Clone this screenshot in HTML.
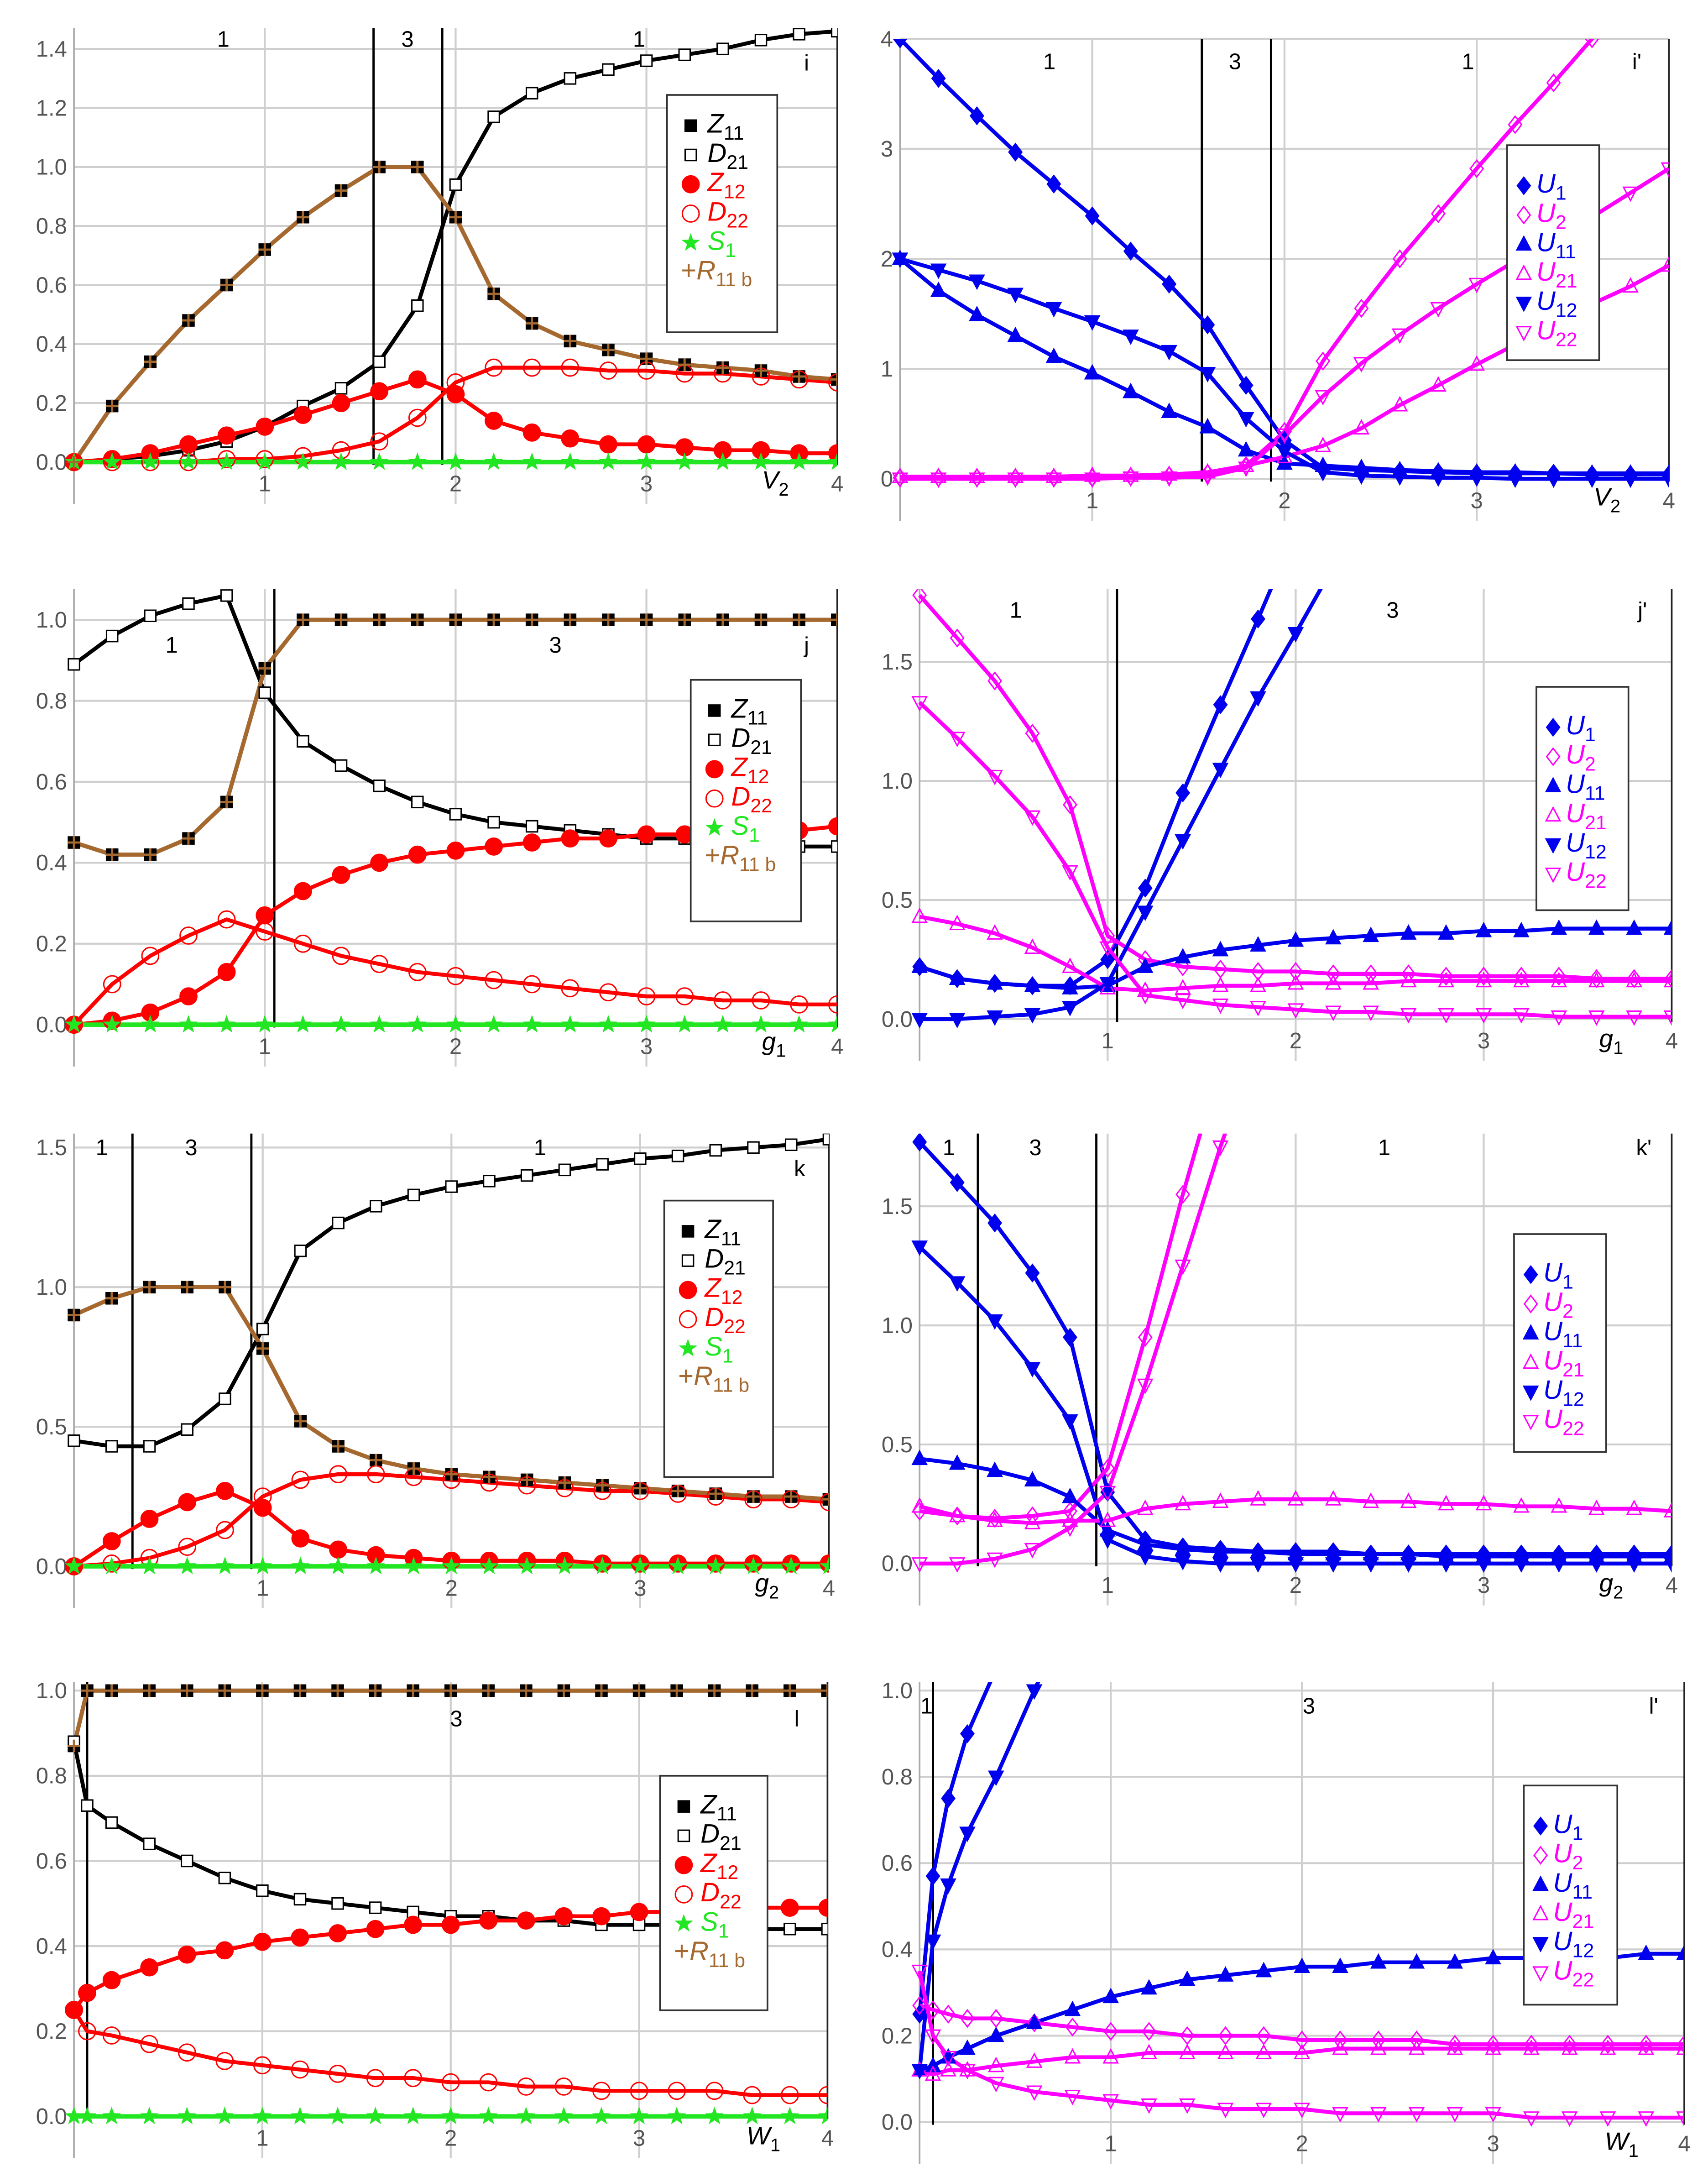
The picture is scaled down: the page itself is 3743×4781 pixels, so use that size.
<!DOCTYPE html>
<html><head><meta charset="utf-8"><title>Panels i–l'</title>
<style>
html,body{margin:0;padding:0;background:#fff;}
svg{display:block;}
text{font-family:"Liberation Sans",sans-serif;}
</style></head>
<body>
<svg id="fig" xmlns="http://www.w3.org/2000/svg" width="3743" height="4781" viewBox="0 0 1224 1563" preserveAspectRatio="none"></svg>
<script>
// ---------- data ----------
const XS = [0,0.2,0.4,0.6,0.8,1.0,1.2,1.4,1.6,1.8,2.0,2.2,2.4,2.6,2.8,3.0,3.2,3.4,3.6,3.8,4.0];
const XS_L = [0,0.07,0.2,0.4,0.6,0.8,1.0,1.2,1.4,1.6,1.8,2.0,2.2,2.4,2.6,2.8,3.0,3.2,3.4,3.6,3.8,4.0];
const XS_LP = [0,0.07,0.15,0.25,0.4,0.6,0.8,1.0,1.2,1.4,1.6,1.8,2.0,2.2,2.4,2.6,2.8,3.0,3.2,3.4,3.6,3.8,4.0];

// panel i
const i_Z11 = [0,0.19,0.34,0.48,0.6,0.72,0.83,0.92,1.0,1.0,0.83,0.57,0.47,0.41,0.38,0.35,0.33,0.32,0.31,0.29,0.28];
const i_D21 = [0,0.01,0.02,0.04,0.07,0.12,0.19,0.25,0.34,0.53,0.94,1.17,1.25,1.3,1.33,1.36,1.38,1.4,1.43,1.45,1.46];
const i_Z12 = [0,0.01,0.03,0.06,0.09,0.12,0.16,0.2,0.24,0.28,0.23,0.14,0.1,0.08,0.06,0.06,0.05,0.04,0.04,0.03,0.03];
const i_D22 = [0,0,0,0,0.01,0.01,0.02,0.04,0.07,0.15,0.27,0.32,0.32,0.32,0.31,0.31,0.3,0.3,0.29,0.28,0.27];
const i_S1  = [0,0,0,0,0,0,0,0,0,0,0,0,0,0,0,0,0,0,0,0,0];
const i_R11b= [0,0.19,0.34,0.48,0.6,0.72,0.83,0.92,1.0,1.0,0.83,0.57,0.47,0.41,0.38,0.35,0.33,0.32,0.31,0.29,0.28];
// panel i'
const ip_U1  = [4,3.64,3.3,2.97,2.68,2.39,2.07,1.77,1.4,0.85,0.35,0.1,0.08,0.07,0.06,0.05,0.05,0.05,0.04,0.04,0.04];
const ip_U2  = [0.01,0.01,0.01,0.01,0.01,0.01,0.02,0.03,0.05,0.12,0.43,1.07,1.55,2.0,2.41,2.82,3.22,3.6,4.0,4.4,4.8];
const ip_U11 = [2,1.71,1.49,1.3,1.11,0.96,0.79,0.61,0.47,0.26,0.14,0.12,0.1,0.08,0.07,0.06,0.06,0.05,0.05,0.05,0.05];
const ip_U21 = [0.02,0.02,0.02,0.02,0.02,0.03,0.03,0.04,0.06,0.12,0.2,0.3,0.46,0.67,0.85,1.04,1.22,1.4,1.59,1.75,1.94];
const ip_U12 = [2,1.9,1.8,1.68,1.55,1.43,1.3,1.16,0.96,0.55,0.25,0.06,0.03,0.02,0.01,0.01,0,0,0,0,0];
const ip_U22 = [0,0,0,0,0,0,0.01,0.01,0.02,0.1,0.4,0.75,1.05,1.31,1.55,1.77,1.98,2.18,2.38,2.6,2.82];
// panel j
const j_Z11 = [0.45,0.42,0.42,0.46,0.55,0.88,1,1,1,1,1,1,1,1,1,1,1,1,1,1,1];
const j_D21 = [0.89,0.96,1.01,1.04,1.06,0.82,0.7,0.64,0.59,0.55,0.52,0.5,0.49,0.48,0.47,0.46,0.46,0.45,0.45,0.44,0.44];
const j_Z12 = [0,0.01,0.03,0.07,0.13,0.27,0.33,0.37,0.4,0.42,0.43,0.44,0.45,0.46,0.46,0.47,0.47,0.48,0.48,0.48,0.49];
const j_D22 = [0,0.1,0.17,0.22,0.26,0.23,0.2,0.17,0.15,0.13,0.12,0.11,0.1,0.09,0.08,0.07,0.07,0.06,0.06,0.05,0.05];
const j_S1  = [0,0,0,0,0,0,0,0,0,0,0,0,0,0,0,0,0,0,0,0,0];
const j_R11b= [0.45,0.42,0.42,0.46,0.55,0.88,1,1,1,1,1,1,1,1,1,1,1,1,1,1,1];
// panel j'
const jp_U1  = [0.22,0.17,0.15,0.14,0.14,0.25,0.55,0.95,1.32,1.68,2.05,2.4,2.8,3.2,3.6,4,4.4,4.8,5.2,5.6,6];
const jp_U2  = [1.78,1.6,1.42,1.2,0.9,0.35,0.25,0.22,0.21,0.2,0.2,0.19,0.19,0.19,0.18,0.18,0.18,0.18,0.17,0.17,0.17];
const jp_U11 = [0.22,0.17,0.15,0.14,0.13,0.14,0.22,0.26,0.29,0.31,0.33,0.34,0.35,0.36,0.36,0.37,0.37,0.38,0.38,0.38,0.38];
const jp_U21 = [0.43,0.4,0.36,0.3,0.22,0.13,0.12,0.13,0.14,0.14,0.15,0.15,0.15,0.16,0.16,0.16,0.16,0.16,0.16,0.16,0.16];
const jp_U12 = [0,0,0.01,0.02,0.05,0.15,0.45,0.75,1.05,1.35,1.62,1.9,2.2,2.5,2.8,3.1,3.4,3.7,4,4.3,4.6];
const jp_U22 = [1.33,1.18,1.02,0.85,0.62,0.3,0.1,0.08,0.06,0.05,0.04,0.03,0.03,0.02,0.02,0.02,0.02,0.01,0.01,0.01,0.01];
// panel k
const k_Z11 = [0.9,0.96,1,1,1,0.78,0.52,0.43,0.38,0.35,0.33,0.32,0.31,0.3,0.29,0.28,0.27,0.26,0.25,0.25,0.24];
const k_D21 = [0.45,0.43,0.43,0.49,0.6,0.85,1.13,1.23,1.29,1.33,1.36,1.38,1.4,1.42,1.44,1.46,1.47,1.49,1.5,1.51,1.53];
const k_Z12 = [0,0.09,0.17,0.23,0.27,0.21,0.1,0.06,0.04,0.03,0.02,0.02,0.02,0.02,0.01,0.01,0.01,0.01,0.01,0.01,0.01];
const k_D22 = [0,0.01,0.03,0.07,0.13,0.25,0.31,0.33,0.33,0.32,0.31,0.3,0.29,0.28,0.27,0.27,0.26,0.25,0.24,0.24,0.23];
const k_S1  = [0,0,0,0,0,0,0,0,0,0,0,0,0,0,0,0,0,0,0,0,0];
const k_R11b= [0.9,0.96,1,1,1,0.78,0.52,0.43,0.38,0.35,0.33,0.32,0.31,0.3,0.29,0.28,0.27,0.26,0.25,0.25,0.24];
// panel k'
const kp_U1  = [1.77,1.6,1.43,1.22,0.95,0.3,0.1,0.07,0.06,0.05,0.05,0.05,0.04,0.04,0.04,0.04,0.04,0.04,0.04,0.04,0.04];
const kp_U2  = [0.22,0.2,0.19,0.2,0.22,0.4,0.95,1.55,2.1,2.6,3.0,3.4,3.8,4.2,4.6,5,5.4,5.8,6.2,6.6,7];
const kp_U11 = [0.44,0.42,0.39,0.35,0.28,0.14,0.08,0.06,0.05,0.05,0.04,0.04,0.04,0.04,0.03,0.03,0.03,0.03,0.03,0.03,0.03];
const kp_U21 = [0.24,0.2,0.18,0.17,0.18,0.18,0.23,0.25,0.26,0.27,0.27,0.27,0.26,0.26,0.25,0.25,0.24,0.24,0.23,0.23,0.22];
const kp_U12 = [1.33,1.18,1.02,0.82,0.6,0.1,0.03,0.01,0,0,0,0,0,0,0,0,0,0,0,0,0];
const kp_U22 = [0,0,0.02,0.06,0.15,0.3,0.75,1.25,1.75,2.2,2.6,3,3.4,3.8,4.2,4.6,5,5.4,5.8,6.2,6.6];
// panel l
const l_Z11 = [0.87,1,1,1,1,1,1,1,1,1,1,1,1,1,1,1,1,1,1,1,1,1];
const l_D21 = [0.88,0.73,0.69,0.64,0.6,0.56,0.53,0.51,0.5,0.49,0.48,0.47,0.47,0.46,0.46,0.45,0.45,0.45,0.44,0.44,0.44,0.44];
const l_Z12 = [0.25,0.29,0.32,0.35,0.38,0.39,0.41,0.42,0.43,0.44,0.45,0.45,0.46,0.46,0.47,0.47,0.48,0.48,0.48,0.49,0.49,0.49];
const l_D22 = [0.25,0.2,0.19,0.17,0.15,0.13,0.12,0.11,0.1,0.09,0.09,0.08,0.08,0.07,0.07,0.06,0.06,0.06,0.06,0.05,0.05,0.05];
const l_S1  = [0,0,0,0,0,0,0,0,0,0,0,0,0,0,0,0,0,0,0,0,0,0];
const l_R11b= [0.87,1,1,1,1,1,1,1,1,1,1,1,1,1,1,1,1,1,1,1,1,1];
// panel l'
const lp_U1  = [0.25,0.57,0.75,0.9,1.05,1.3,1.55,1.8,2,2.2,2.4,2.6,2.8,3,3.2,3.4,3.6,3.8,4,4.2,4.4,4.6,4.8];
const lp_U2  = [0.27,0.26,0.25,0.24,0.24,0.23,0.22,0.21,0.21,0.2,0.2,0.2,0.19,0.19,0.19,0.19,0.18,0.18,0.18,0.18,0.18,0.18,0.18];
const lp_U11 = [0.12,0.13,0.15,0.17,0.2,0.23,0.26,0.29,0.31,0.33,0.34,0.35,0.36,0.36,0.37,0.37,0.37,0.38,0.38,0.38,0.38,0.39,0.39];
const lp_U21 = [0.12,0.11,0.12,0.12,0.13,0.14,0.15,0.15,0.16,0.16,0.16,0.16,0.16,0.17,0.17,0.17,0.17,0.17,0.17,0.17,0.17,0.17,0.17];
const lp_U12 = [0.12,0.42,0.55,0.67,0.8,1.0,1.2,1.4,1.6,1.8,2,2.2,2.4,2.6,2.8,3,3.2,3.4,3.6,3.8,4,4.2,4.4];
const lp_U22 = [0.35,0.2,0.15,0.12,0.09,0.07,0.06,0.05,0.04,0.04,0.03,0.03,0.03,0.02,0.02,0.02,0.02,0.02,0.01,0.01,0.01,0.01,0.01];

const TICKS_14 = [0,0.2,0.4,0.6,0.8,1.0,1.2,1.4];
const TICKS_4 = [0,1,2,3,4];
const TICKS_10 = [0,0.2,0.4,0.6,0.8,1.0];
const TICKS_15 = [0,0.5,1.0,1.5];
const XTICKS = [1,2,3,4];

// ---------- styling ----------
const NS = 'http://www.w3.org/2000/svg';
const svg = document.getElementById('fig');
const BROWN = '#a5692f', RED = '#ff0000', GREEN = '#22e622', BLUE = '#0000ee', MAG = '#ff00ff';

function mk(tag, attrs, parent) {
  const e = document.createElementNS(NS, tag);
  for (const k in attrs) e.setAttribute(k, attrs[k]);
  (parent || svg).appendChild(e);
  return e;
}

function marker(g, type, x, y, color) {
  const s = 4;
  let e;
  if (type === 'fsq' || type === 'osq') {
    e = mk('rect', {x: x - s, y: y - s, width: 2 * s, height: 2 * s,
      fill: type === 'fsq' ? '#000' : '#fff', stroke: '#000', 'stroke-width': 1}, g);
  } else if (type === 'fci' || type === 'oci') {
    e = mk('circle', {cx: x, cy: y, r: 6, fill: type === 'fci' ? color : 'none', stroke: color, 'stroke-width': 1}, g);
  } else if (type === 'star') {
    let p = [];
    for (let k = 0; k < 10; k++) {
      const r = k % 2 ? 2.8 : 7, a = -Math.PI / 2 + k * Math.PI / 5;
      p.push((x + r * Math.cos(a)).toFixed(2) + ',' + (y + r * Math.sin(a)).toFixed(2));
    }
    e = mk('polygon', {points: p.join(' '), fill: color}, g);
  } else if (type === 'plus') {
    e = mk('path', {d: `M${x-4.5},${y}H${x+4.5}M${x},${y-4.5}V${y+4.5}`, stroke: color, 'stroke-width': 1.6, fill: 'none'}, g);
  } else if (type === 'fdi' || type === 'odi') {
    e = mk('polygon', {points: `${x},${y-6} ${x+4.6},${y} ${x},${y+6} ${x-4.6},${y}`,
      fill: type === 'fdi' ? color : 'none', stroke: color, 'stroke-width': 1}, g);
  } else if (type === 'fup' || type === 'oup') {
    e = mk('polygon', {points: `${x},${y-5.5} ${x+5},${y+4} ${x-5},${y+4}`,
      fill: type === 'fup' ? color : 'none', stroke: color, 'stroke-width': 1}, g);
  } else {
    e = mk('polygon', {points: `${x},${y+5.5} ${x+5},${y-4} ${x-5},${y-4}`,
      fill: type === 'fdn' ? color : 'none', stroke: color, 'stroke-width': 1}, g);
  }
  
  
  return e;
}

let clipId = 0;
function panel(cfg) {
  const g = mk('g', {});
  
  
  const xs = cfg.xs;
  const sx = v => cfg.left + (cfg.right - cfg.left) * v / 4;
  const sy = v => cfg.y0 - cfg.ppu * v;
  const bottom = cfg.y0 + 30;
  cfg.yticks.forEach(t => {
    const ln = mk('line', {x1: cfg.left, x2: cfg.right, y1: sy(t), y2: sy(t), stroke: '#cfcfcf', 'stroke-width': 1.4}, g);
    
    
    const tl = mk('text', {x: cfg.left - 5, y: sy(t) + 5.5, 'text-anchor': 'end', 'font-size': 16, fill: '#555'}, g);
    tl.textContent = cfg.dec ? t.toFixed(1) : String(t);
    
    
  });
  XTICKS.forEach(t => {
    if (t < 4) {
      const ln = mk('line', {x1: sx(t), x2: sx(t), y1: cfg.top, y2: bottom, stroke: '#cfcfcf', 'stroke-width': 1.4}, g);
      
      
    }
    const tl = mk('text', {x: sx(t), y: cfg.y0 + 21, 'text-anchor': 'middle', 'font-size': 16, fill: '#555'}, g);
    tl.textContent = String(t);
    
    
  });
  const ax = mk('line', {x1: cfg.left, x2: cfg.left, y1: cfg.top, y2: bottom, stroke: '#aaa', 'stroke-width': 1.2}, g);
  
  
  const rf = mk('line', {x1: cfg.right, x2: cfg.right, y1: cfg.top, y2: cfg.y0 + 2, stroke: '#222', 'stroke-width': 1.2}, g);
  
  
  cfg.vlines.forEach(v => {
    const ln = mk('line', {x1: sx(v), x2: sx(v), y1: cfg.top, y2: cfg.y0 + 2, stroke: '#000', 'stroke-width': 1.6}, g);
    
    
  });
  const cid = 'clip' + (clipId++);
  const cp = mk('clipPath', {id: cid}, g);
  mk('rect', {x: cfg.left - 8, y: cfg.top, width: cfg.right - cfg.left + 8, height: cfg.y0 - cfg.top + 12}, cp);
  const sg = mk('g', {'clip-path': `url(#${cid})`}, g);
  
  
  cfg.series.forEach(s => {
    if (s.line) {
      const pts = s.ys.map((v, k) => sx(xs[k]).toFixed(2) + ',' + sy(v).toFixed(2)).join(' ');
      const pl = mk('polyline', {points: pts, fill: 'none', stroke: s.line, 'stroke-width': s.lw || 2.8, 'stroke-linejoin': 'round'}, sg);
      
      
    }
  });
  cfg.series.forEach(s => {
    s.ys.forEach((v, k) => marker(sg, s.m, sx(xs[k]), sy(v), s.color));
  });
  cfg.regions.forEach(r => {
    const t = mk('text', {x: r[0], y: r[1] + 5.5, 'text-anchor': 'middle', 'font-size': 16, fill: '#000'}, g);
    t.textContent = r[2];
    
    
  });
  const tg = mk('text', {x: cfg.tag[1], y: cfg.tag[2] + 5.5, 'text-anchor': 'middle', 'font-size': 16, fill: '#000'}, g);
  tg.textContent = cfg.tag[0];
  
  
  const xl = mk('text', {x: cfg.xlab[1], y: cfg.xlab[2], 'font-size': 18, 'font-style': 'italic', fill: '#000'}, g);
  xl.textContent = cfg.xlab[0];
  const sub = mk('tspan', {dy: 5, 'font-size': 13, 'font-style': 'normal'}, xl);
  sub.textContent = cfg.xlab[3];
  
  
  const L = cfg.legend;
  const lg = mk('g', {}, g);
  
  
  mk('rect', {x: L.x, y: L.y, width: L.w, height: L.h, fill: '#fff', stroke: '#333', 'stroke-width': 1.2}, lg);
  cfg.series.forEach((s, k) => {
    const yy = L.y + L.start + k * 21;
    const eg = mk('g', {}, lg);
    
    
    if (s.m !== 'plus') marker(eg, s.m, L.x + L.mx, yy, s.color);
    const tx = mk('text', {x: L.x + (s.m === 'plus' ? 10 : L.tx), y: yy + 5, 'font-size': 19, 'font-style': 'italic', fill: s.tcolor}, eg);
    if (s.m === 'plus') { const p = mk('tspan', {'font-style': 'normal'}, tx); p.textContent = '+'; }
    const a = mk('tspan', {}, tx); a.textContent = s.base;
    const b = mk('tspan', {dy: 5, 'font-size': 14, 'font-style': 'normal'}, tx); b.textContent = s.sub;
  });
}

function zSeries(Z11, D21, Z12, D22, S1, R11b) {
  return [
    {name: 'Z11', ys: Z11, m: 'fsq', color: '#000', tcolor: '#000', base: 'Z', sub: '11'},
    {name: 'D21', ys: D21, m: 'osq', color: '#000', tcolor: '#000', base: 'D', sub: '21', line: '#000'},
    {name: 'Z12', ys: Z12, m: 'fci', color: RED, tcolor: RED, base: 'Z', sub: '12', line: RED},
    {name: 'D22', ys: D22, m: 'oci', color: RED, tcolor: RED, base: 'D', sub: '22', line: RED},
    {name: 'S1', ys: S1, m: 'star', color: GREEN, tcolor: GREEN, base: 'S', sub: '1', line: GREEN, lw: 3.2},
    {name: 'R11b', ys: R11b, m: 'plus', color: BROWN, tcolor: BROWN, base: 'R', sub: '11 b', line: BROWN, lw: 3}
  ];
}
function uSeries(U1, U2, U11, U21, U12, U22) {
  return [
    {name: 'U1', ys: U1, m: 'fdi', color: BLUE, tcolor: BLUE, base: 'U', sub: '1', line: BLUE},
    {name: 'U2', ys: U2, m: 'odi', color: MAG, tcolor: MAG, base: 'U', sub: '2', line: MAG},
    {name: 'U11', ys: U11, m: 'fup', color: BLUE, tcolor: BLUE, base: 'U', sub: '11', line: BLUE},
    {name: 'U21', ys: U21, m: 'oup', color: MAG, tcolor: MAG, base: 'U', sub: '21', line: MAG},
    {name: 'U12', ys: U12, m: 'fdn', color: BLUE, tcolor: BLUE, base: 'U', sub: '12', line: BLUE},
    {name: 'U22', ys: U22, m: 'odn', color: MAG, tcolor: MAG, base: 'U', sub: '22', line: MAG}
  ];
}
const LZ = {start: 22, mx: 17, tx: 29};
const LU = {start: 29, mx: 12, tx: 21};

panel({id: 'i', xs: XS, left: 53, right: 600, y0: 331, ppu: 211.4, top: 20, yticks: TICKS_14, dec: true,
  vlines: [1.57, 1.93], regions: [[160, 28, '1'], [292, 28, '3'], [458, 28, '1']], tag: ['i', 578, 45],
  xlab: ['V', 546, 350, '2'], legend: Object.assign({x: 478, y: 68, w: 79, h: 170}, LZ),
  series: zSeries(i_Z11, i_D21, i_Z12, i_D22, i_S1, i_R11b)});
panel({id: 'i-prime', xs: XS, left: 645, right: 1196, y0: 343, ppu: 78.8, top: 28, yticks: TICKS_4, dec: false,
  vlines: [1.57, 1.93], regions: [[752, 44, '1'], [885, 44, '3'], [1052, 44, '1']], tag: ["i'", 1173, 44],
  xlab: ['V', 1142, 362, '2'], legend: Object.assign({x: 1080, y: 104, w: 66, h: 154}, LU),
  series: uSeries(ip_U1, ip_U2, ip_U11, ip_U21, ip_U12, ip_U22)});
panel({id: 'j', xs: XS, left: 53, right: 600, y0: 734, ppu: 290, top: 422, yticks: TICKS_10, dec: true,
  vlines: [1.05], regions: [[123, 462, '1'], [398, 462, '3']], tag: ['j', 578, 462],
  xlab: ['g', 546, 752, '1'], legend: Object.assign({x: 495, y: 487, w: 79, h: 173}, LZ),
  series: zSeries(j_Z11, j_D21, j_Z12, j_D22, j_S1, j_R11b)});
panel({id: 'j-prime', xs: XS, left: 659, right: 1198, y0: 730, ppu: 170.6, top: 422, yticks: TICKS_15, dec: true,
  vlines: [1.05], regions: [[728, 437, '1'], [998, 437, '3']], tag: ["j'", 1177, 437],
  xlab: ['g', 1146, 750, '1'], legend: Object.assign({x: 1101, y: 492, w: 66, h: 160}, LU),
  series: uSeries(jp_U1, jp_U2, jp_U11, jp_U21, jp_U12, jp_U22)});
panel({id: 'k', xs: XS, left: 53, right: 594, y0: 1122, ppu: 200, top: 812, yticks: TICKS_15, dec: true,
  vlines: [0.31, 0.94], regions: [[73, 822, '1'], [137, 822, '3'], [387, 822, '1']], tag: ['k', 573, 837],
  xlab: ['g', 541, 1140, '2'], legend: Object.assign({x: 476, y: 860, w: 78, h: 198}, LZ),
  series: zSeries(k_Z11, k_D21, k_Z12, k_D22, k_S1, k_R11b)});
panel({id: 'k-prime', xs: XS, left: 659, right: 1198, y0: 1120, ppu: 170.6, top: 812, yticks: TICKS_15, dec: true,
  vlines: [0.31, 0.94], regions: [[680, 822, '1'], [742, 822, '3'], [992, 822, '1']], tag: ["k'", 1178, 822],
  xlab: ['g', 1146, 1140, '2'], legend: Object.assign({x: 1085, y: 884, w: 66, h: 156}, LU),
  series: uSeries(kp_U1, kp_U2, kp_U11, kp_U21, kp_U12, kp_U22)});
panel({id: 'l', xs: XS_L, left: 53, right: 593, y0: 1516, ppu: 305, top: 1205, yticks: TICKS_10, dec: true,
  vlines: [0.07], regions: [[327, 1231, '3']], tag: ['l', 571, 1231],
  xlab: ['W', 535, 1536, '1'], legend: Object.assign({x: 473, y: 1272, w: 77, h: 168}, LZ),
  series: zSeries(l_Z11, l_D21, l_Z12, l_D22, l_S1, l_R11b)});
panel({id: 'l-prime', xs: XS_LP, left: 659, right: 1207, y0: 1520, ppu: 309, top: 1205, yticks: TICKS_10, dec: true,
  vlines: [0.07], regions: [[664, 1222, '1'], [938, 1222, '3']], tag: ["l'", 1185, 1222],
  xlab: ['W', 1150, 1540, '1'], legend: Object.assign({x: 1092, y: 1279, w: 67, h: 157}, LU),
  series: uSeries(lp_U1, lp_U2, lp_U11, lp_U21, lp_U12, lp_U22)});
</script>
</body></html>
